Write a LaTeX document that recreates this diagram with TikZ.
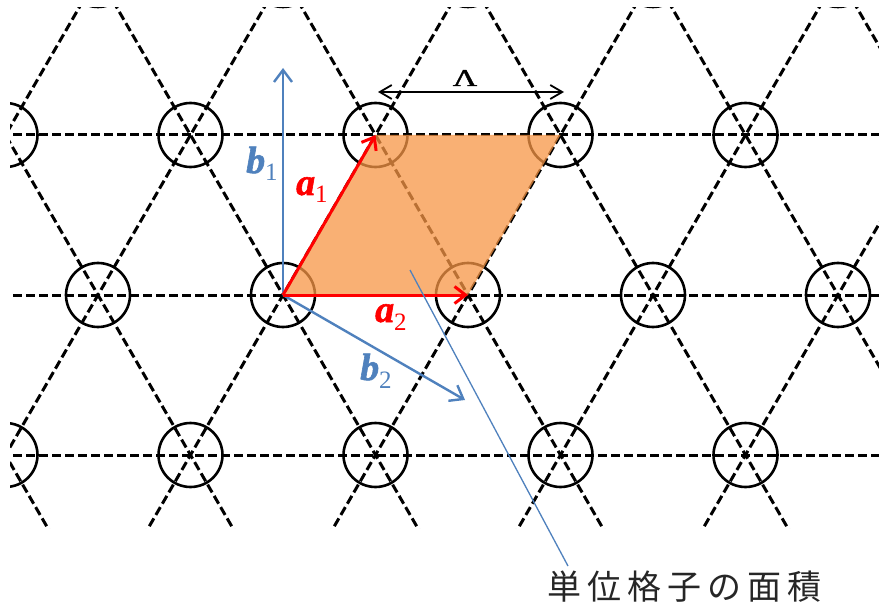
\documentclass[tikz,border=0pt]{standalone}
\usepackage{fontspec}
\setmainfont{Liberation Serif}
\newfontfamily\cjkfont[LetterSpace=18]{Noto Sans CJK JP}
\newfontfamily\vecfont[FakeBold=1.5]{Liberation Serif}
\usetikzlibrary{arrows.meta}
\definecolor{vred}{HTML}{FF0000}
\definecolor{vblue}{HTML}{4F81BD}
\definecolor{cellorange}{HTML}{F79646}
\newcommand\vlab[2]{{\vecfont\fontsize{38}{38}\selectfont\bfseries\itshape #1}\raisebox{-8pt}{\fontsize{25}{25}\selectfont #2}}
\begin{document}
\begin{tikzpicture}[x=1pt,y=-1pt,
  latline/.style={line width=3pt, dash pattern=on 9pt off 4pt},
  site/.style={line width=2.6pt},
  vecA/.style={vred, line width=3pt, -{Straight Barb[length=11pt,width=17pt]}},
  vecB/.style={vblue, line width=2.4pt, -{Straight Barb[length=12pt,width=18pt]}},
  dimarrow/.style={black, line width=1.8pt, {Straight Barb[length=12pt,width=14pt]}-{Straight Barb[length=12pt,width=14pt]}},
  leader/.style={vblue, line width=1.3pt},
  lbl/.style={inner sep=0pt, anchor=base west}
]
\useasboundingbox (0,0) rectangle (879,607);
\fill[white] (0,0) rectangle (879,607);
% lattice
\begin{scope}
\clip (10,8) rectangle (879,528);
\foreach \n in {-2,...,2}{
  \draw[latline] (0,{295-160*\n}) -- (879,{295-160*\n});
}
\foreach \m in {-4,...,5}{
  \draw[latline] ({283+185*\m-231.25},695) -- ({283+185*\m+231.25},-105);
  \draw[latline] ({283+185*\m+231.25},695) -- ({283+185*\m-231.25},-105);
}
\foreach \n in {-2,...,2}{
  \foreach \m in {-3,...,4}{
    \draw[site] ({283+92.5*\n+185*\m},{295-160*\n}) circle[radius=32];
  }
}
\end{scope}
% key points
\coordinate (O) at (283,295);
\coordinate (A1) at (375.5,135);
\coordinate (C) at (560.5,135);
\coordinate (A2) at (468,295);
\coordinate (B1) at (283,68);
\coordinate (B2) at (465,400);
\coordinate (LamL) at (378,92);
\coordinate (LamR) at (564,92);
\coordinate (lA) at (410,270);
\coordinate (lB) at (568,566);
% unit cell
\fill[cellorange, fill opacity=0.75] (O) -- (A1) -- (C) -- (A2) -- cycle;
% vectors
\draw[vecB] (O) -- (B1);
\draw[vecB] (O) -- (B2);
\draw[vecA] (O) -- (A1);
\draw[vecA] (O) -- (A2);
\draw[dimarrow] (LamL) -- (LamR);
\draw[leader] (lA) -- (lB);
% labels
\node[lbl, text=vblue] (lb1) at (246,173) {\vlab{b}{1}};
\node[lbl, text=vred] (la1) at (296,195) {\vlab{a}{1}};
\node[lbl, text=vred] (la2) at (375,322) {\vlab{a}{2}};
\node[lbl, text=vblue] (lb2) at (360,380) {\vlab{b}{2}};
\node[inner sep=0pt, anchor=base] (lam) at (465,86) {\scalebox{1.4}[1]{\vecfont\fontsize{24}{24}\selectfont Λ}};
\node[inner sep=0pt, anchor=base west, text=black!85] (txt) at (547,599) {\cjkfont\fontsize{34}{34}\selectfont 単位格子の面積};
\end{tikzpicture}
\end{document}
